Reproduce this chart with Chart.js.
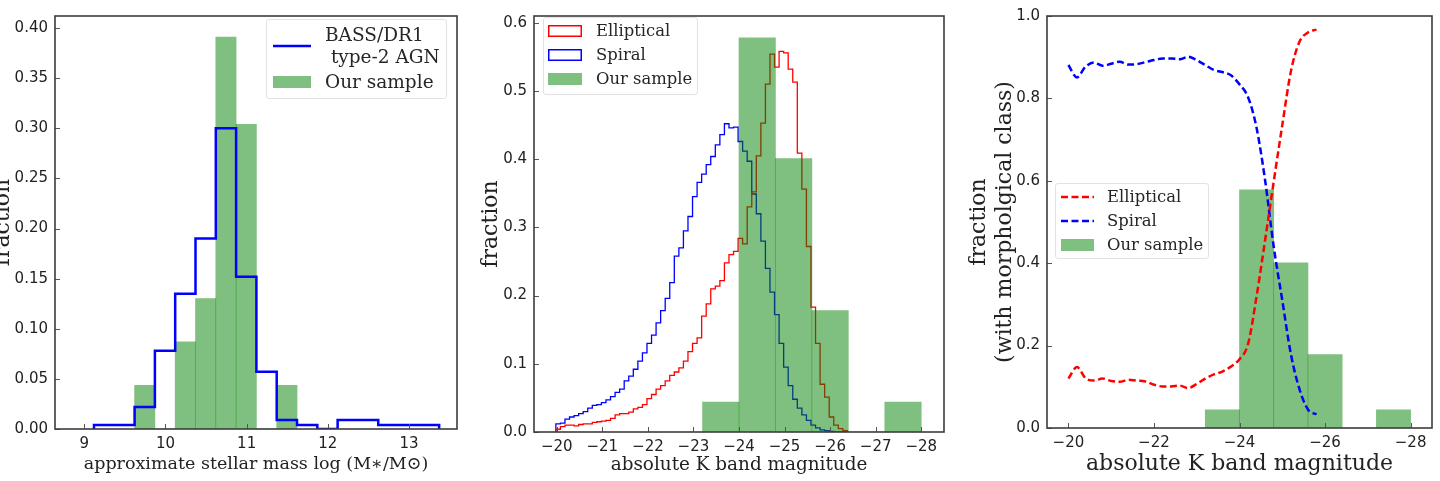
<!DOCTYPE html>
<html>
<head>
<meta charset="utf-8">
<title>Stellar mass and K band magnitude distributions</title>
<script src="https://cdn.jsdelivr.net/npm/chart.js@4.4.1/dist/chart.umd.min.js"></script>
<style>
    body { margin: 0; width: 1440px; height: 481px; background: #fff; position: relative; overflow: hidden; }
    .panel { position: absolute; top: 0; height: 481px; }
    .legend { position: absolute; box-sizing: border-box; background: rgba(255,255,255,0.8); border: 1px solid #e2e2e2; border-radius: 3px; font-family: "DejaVu Serif", serif; color: #262626; }
    .legend .txt { position: absolute; white-space: pre; }
    .legend svg { position: absolute; }
</style>
</head>
<body>
<div class="panel" style="left:0px"><canvas id="massChart" width="466" height="481"></canvas></div>
<div class="panel" style="left:466px"><canvas id="magChart" width="494" height="481"></canvas></div>
<div class="panel" style="left:960px"><canvas id="fracChart" width="480" height="481"></canvas></div>
<script>
// panel 1: stellar mass
const massEdges = [9.12, 9.37, 9.62, 9.87, 10.12, 10.37, 10.62, 10.87, 11.12, 11.37, 11.62, 11.87, 12.12, 12.37, 12.62, 12.87, 13.12, 13.37];
const bassFraction = [0.004, 0.004, 0.022, 0.078, 0.135, 0.19, 0.30, 0.152, 0.057, 0.009, 0.004, 0, 0.009, 0.009, 0.004, 0.004, 0.004];
const sampleMassEdges = [9.62, 9.87, 10.12, 10.37, 10.62, 10.87, 11.12, 11.37, 11.62];
const sampleMassFraction = [0.0435, 0, 0.087, 0.130, 0.391, 0.304, 0, 0.0435];
const massTicks = [9, 10, 11, 12, 13];
const massFracTicks = [0, 0.05, 0.10, 0.15, 0.20, 0.25, 0.30, 0.35, 0.40];

// panel 2: K band magnitude histograms
const kEdges = [
    -19.98, -20.08, -20.18, -20.28, -20.38, -20.48, -20.58, -20.68, -20.78, -20.88,
    -20.98, -21.08, -21.18, -21.28, -21.38, -21.48, -21.58, -21.68, -21.78, -21.88,
    -21.98, -22.08, -22.18, -22.28, -22.38, -22.48, -22.58, -22.68, -22.78, -22.88,
    -22.98, -23.08, -23.18, -23.28, -23.38, -23.48, -23.58, -23.68, -23.78, -23.88,
    -23.98, -24.08, -24.18, -24.28, -24.38, -24.48, -24.58, -24.68, -24.78, -24.88,
    -24.98, -25.08, -25.18, -25.28, -25.38, -25.48, -25.58, -25.68, -25.78, -25.88,
    -25.98, -26.08, -26.18, -26.28, -26.38
];
const ellipticalHist = [
    0.004, 0.008, 0.010, 0.010, 0.009, 0.011, 0.012, 0.012, 0.014, 0.015,
    0.016, 0.017, 0.020, 0.025, 0.027, 0.027, 0.029, 0.034, 0.036, 0.040,
    0.049, 0.055, 0.063, 0.068, 0.075, 0.083, 0.088, 0.094, 0.104, 0.118,
    0.130, 0.138, 0.170, 0.188, 0.210, 0.214, 0.222, 0.248, 0.260, 0.265,
    0.284, 0.276, 0.330, 0.352, 0.405, 0.453, 0.510, 0.554, 0.535, 0.558,
    0.556, 0.532, 0.513, 0.409, 0.356, 0.272, 0.183, 0.130, 0.070, 0.051,
    0.022, 0.010, 0.005, 0.002
];
const spiralHist = [
    0.012, 0.013, 0.019, 0.022, 0.024, 0.027, 0.030, 0.035, 0.039, 0.040,
    0.043, 0.047, 0.052, 0.058, 0.063, 0.075, 0.082, 0.092, 0.104, 0.116,
    0.130, 0.142, 0.160, 0.178, 0.196, 0.219, 0.258, 0.270, 0.295, 0.316,
    0.345, 0.366, 0.378, 0.392, 0.404, 0.421, 0.436, 0.452, 0.446, 0.447,
    0.426, 0.412, 0.397, 0.349, 0.320, 0.280, 0.240, 0.205, 0.172, 0.130,
    0.095, 0.068, 0.048, 0.035, 0.025, 0.017, 0.010, 0.006, 0.003, 0.002,
    0.001, 0, 0, 0
];
const sampleKEdges = [-23.2, -24.0, -24.8, -25.6, -26.4, -27.2, -28.0];
const sampleKFraction = [0.044, 0.578, 0.401, 0.178, 0, 0.044];
const kTicks2 = [-20, -21, -22, -23, -24, -25, -26, -27, -28];
const kFracTicks2 = [0, 0.1, 0.2, 0.3, 0.4, 0.5, 0.6];

// panel 3: fraction with morphological class
const classMags = [-20.0, -20.2, -20.4, -20.6, -20.8, -21.0, -21.2, -21.4, -21.6, -21.8,
    -22.0, -22.2, -22.4, -22.6, -22.8, -23.0, -23.2, -23.4, -23.6, -23.8,
    -24.0, -24.2, -24.4, -24.6, -24.8, -25.0, -25.2, -25.4, -25.6, -25.8];
const ellipticalShare = [0.120, 0.148, 0.121, 0.115, 0.120, 0.114, 0.112, 0.117, 0.115, 0.113,
    0.105, 0.101, 0.101, 0.103, 0.097, 0.107, 0.120, 0.130, 0.137, 0.149,
    0.167, 0.204, 0.320, 0.457, 0.598, 0.735, 0.865, 0.937, 0.960, 0.967];
const spiralShare = [0.881, 0.851, 0.877, 0.887, 0.879, 0.884, 0.889, 0.882, 0.883, 0.888,
    0.893, 0.897, 0.897, 0.895, 0.901, 0.893, 0.881, 0.869, 0.864, 0.856,
    0.834, 0.803, 0.728, 0.600, 0.440, 0.310, 0.180, 0.095, 0.045, 0.033];
const kTicks3 = [-20, -22, -24, -26, -28];
const classFracTicks = [0, 0.2, 0.4, 0.6, 0.8, 1.0];

const textColor = "#222";
const tickFont = { family: "DejaVu Sans", size: 15 };
const green = "rgba(0,128,0,0.5)";

function stepPoints(edges, values) {
    const pts = [{ x: edges[0], y: 0 }];
    values.forEach(function (v, i) { pts.push({ x: edges[i], y: v }); });
    pts.push({ x: edges[edges.length - 1], y: 0 });
    return pts;
}

function barPoints(edges, values) {
    return values.map(function (v, i) { return { x: (edges[i] + edges[i + 1]) / 2, y: v }; });
}

function fixedTicks(values) {
    return function (scale) {
        scale.ticks = values.map(function (v) { return { value: v }; });
    };
}

function minus(v) {
    return v < 0 ? "\u2212" + Math.abs(v) : String(v);
}

// axes box and inward tick marks like matplotlib
const frame = {
    id: "frame",
    afterDatasetsDraw(chart) {
        const { ctx, chartArea: a, scales } = chart;
        ctx.save();
        ctx.strokeStyle = "#555";
        ctx.lineWidth = 1;
        scales.x.ticks.forEach(function (t) {
            const px = Math.round(scales.x.getPixelForValue(t.value)) + 0.5;
            ctx.beginPath(); ctx.moveTo(px, a.bottom); ctx.lineTo(px, a.bottom - 5); ctx.stroke();
        });
        scales.y.ticks.forEach(function (t) {
            const py = Math.round(scales.y.getPixelForValue(t.value)) + 0.5;
            ctx.beginPath(); ctx.moveTo(a.left, py); ctx.lineTo(a.left + 5, py); ctx.stroke();
        });
        ctx.strokeStyle = "#3c3c3c";
        ctx.lineWidth = 1.6;
        ctx.strokeRect(a.left, a.top, a.right - a.left, a.bottom - a.top);
        ctx.restore();
    }
};

function xAxis(o) {
    return {
        type: "linear", min: o.min, max: o.max, reverse: !!o.reverse, offset: false,
        grid: { display: false, drawTicks: false, offset: false }, border: { display: false },
        afterBuildTicks: fixedTicks(o.ticks),
        afterFit: function (s) { s.height = o.height; },
        ticks: { font: tickFont, color: textColor, padding: 6, autoSkip: false, maxRotation: 0, callback: minus },
        title: { display: true, text: o.title, color: textColor, font: { family: "DejaVu Serif", size: o.titleSize }, padding: { top: 0, bottom: o.titlePad } }
    };
}

function yAxis(o) {
    return {
        min: 0, max: o.max,
        grid: { display: false, drawTicks: false }, border: { display: false },
        afterBuildTicks: fixedTicks(o.ticks),
        afterFit: function (s) { s.width = o.width; },
        ticks: { font: tickFont, color: textColor, padding: 7, autoSkip: false, callback: function (v) { return v.toFixed(o.digits); } },
        title: { display: true, text: o.title, color: textColor, font: { family: "DejaVu Serif", size: 22 }, padding: { top: o.titlePad, bottom: 0 } }
    };
}

function swatch(kind, ds, w) {
    const ns = "http://www.w3.org/2000/svg";
    const svg = document.createElementNS(ns, "svg");
    svg.setAttribute("width", w);
    svg.setAttribute("height", 12);
    let shape;
    if (kind === "line" || kind === "dash") {
        shape = document.createElementNS(ns, "line");
        shape.setAttribute("x1", 0); shape.setAttribute("y1", 6);
        shape.setAttribute("x2", w); shape.setAttribute("y2", 6);
        shape.setAttribute("stroke", ds.borderColor);
        shape.setAttribute("stroke-width", ds.borderWidth);
        if (kind === "dash") shape.setAttribute("stroke-dasharray", ds.borderDash.join(" "));
    } else if (kind === "outline") {
        shape = document.createElementNS(ns, "rect");
        shape.setAttribute("x", 0.75); shape.setAttribute("y", 0.75);
        shape.setAttribute("width", w - 1.5); shape.setAttribute("height", 10.5);
        shape.setAttribute("fill", "none");
        shape.setAttribute("stroke", ds.borderColor);
        shape.setAttribute("stroke-width", 1.5);
    } else {
        shape = document.createElementNS(ns, "rect");
        shape.setAttribute("width", w); shape.setAttribute("height", 12);
        shape.setAttribute("fill", ds.backgroundColor);
    }
    svg.appendChild(shape);
    return svg;
}

function legend(chart, box, rows) {
    const el = document.createElement("div");
    el.className = "legend";
    el.style.left = box.left + "px";
    el.style.top = box.top + "px";
    el.style.width = box.width + "px";
    el.style.height = box.height + "px";
    el.style.fontSize = box.fontSize + "px";
    rows.forEach(function (r) {
        const ds = chart.data.datasets[r.index];
        const lines = ds.label.split("\n").length;
        const txt = document.createElement("div");
        txt.className = "txt";
        txt.textContent = ds.label;
        txt.style.left = box.textLeft + "px";
        txt.style.lineHeight = box.lineHeight + "px";
        txt.style.top = (r.y - lines * box.lineHeight / 2) + "px";
        el.appendChild(txt);
        const sw = swatch(r.kind, ds, box.swatchWidth);
        sw.style.left = box.swatchLeft + "px";
        sw.style.top = (r.y - 6) + "px";
        el.appendChild(sw);
    });
    document.body.appendChild(el);
}

const massChart = new Chart(document.getElementById("massChart"), {
    type: "bar",
    data: {
        datasets: [
            {
                type: "line", label: "BASS/DR1\n type-2 AGN", data: stepPoints(massEdges, bassFraction),
                borderColor: "#0000ff", borderWidth: 2.5, stepped: "before", pointRadius: 0, fill: false, order: 0
            },
            {
                type: "bar", label: "Our sample", data: barPoints(sampleMassEdges, sampleMassFraction),
                backgroundColor: green, borderWidth: 0, barPercentage: 1, categoryPercentage: 1, order: 1
            }
        ]
    },
    options: {
        responsive: false, animation: false,
        layout: { padding: { left: 0, top: 9, right: 9, bottom: 0 } },
        plugins: { legend: { display: false }, tooltip: { enabled: false } },
        scales: {
            x: xAxis({ min: 8.64, max: 13.59, ticks: massTicks, height: 52, title: "approximate stellar mass log (M\u2217/M\u2299)", titleSize: 17.5, titlePad: 6.5 }),
            y: yAxis({ max: 0.412, ticks: massFracTicks, width: 55, digits: 2, title: "fraction", titlePad: -10 })
        }
    },
    plugins: [frame]
});

const magChart = new Chart(document.getElementById("magChart"), {
    type: "bar",
    data: {
        datasets: [
            {
                type: "line", label: "Elliptical", data: stepPoints(kEdges, ellipticalHist),
                borderColor: "#ff0000", borderWidth: 1.3, stepped: "before", pointRadius: 0, fill: false, order: 1
            },
            {
                type: "line", label: "Spiral", data: stepPoints(kEdges, spiralHist),
                borderColor: "#0000ff", borderWidth: 1.3, stepped: "before", pointRadius: 0, fill: false, order: 1
            },
            {
                type: "bar", label: "Our sample", data: barPoints(sampleKEdges, sampleKFraction),
                backgroundColor: green, borderWidth: 0, barPercentage: 1, categoryPercentage: 1, order: 0
            }
        ]
    },
    options: {
        responsive: false, animation: false,
        layout: { padding: { left: 0, top: 9, right: 16, bottom: 0 } },
        plugins: { legend: { display: false }, tooltip: { enabled: false } },
        scales: {
            x: xAxis({ min: -28.5, max: -19.5, reverse: true, ticks: kTicks2, height: 49, title: "absolute K band magnitude", titleSize: 18.4, titlePad: 4.5 }),
            y: yAxis({ max: 0.61, ticks: kFracTicks2, width: 68, digits: 1, title: "fraction", titlePad: 12 })
        }
    },
    plugins: [frame]
});

const fracChart = new Chart(document.getElementById("fracChart"), {
    type: "bar",
    data: {
        datasets: [
            {
                type: "line", label: "Elliptical", data: classMags.map(function (m, i) { return { x: m, y: ellipticalShare[i] }; }),
                borderColor: "#ff0000", borderWidth: 2.5, borderDash: [7, 3.5], cubicInterpolationMode: "monotone", pointRadius: 0, fill: false, order: 0
            },
            {
                type: "line", label: "Spiral", data: classMags.map(function (m, i) { return { x: m, y: spiralShare[i] }; }),
                borderColor: "#0000ff", borderWidth: 2.5, borderDash: [7, 3.5], cubicInterpolationMode: "monotone", pointRadius: 0, fill: false, order: 0
            },
            {
                type: "bar", label: "Our sample", data: barPoints(sampleKEdges, sampleKFraction),
                backgroundColor: green, borderWidth: 0, barPercentage: 1, categoryPercentage: 1, order: 1
            }
        ]
    },
    options: {
        responsive: false, animation: false,
        layout: { padding: { left: 0, top: 15, right: 8, bottom: 0 } },
        plugins: { legend: { display: false }, tooltip: { enabled: false } },
        scales: {
            x: xAxis({ min: -28.5, max: -19.5, reverse: true, ticks: kTicks3, height: 53, title: "absolute K band magnitude", titleSize: 22, titlePad: 4 }),
            y: yAxis({ max: 1.0, ticks: classFracTicks, width: 87, digits: 1, title: ["fraction", "(with morpholgical class)"], titlePad: 6 })
        }
    },
    plugins: [frame]
});

legend(massChart, { left: 266, top: 19, width: 181, height: 80, fontSize: 18.5, lineHeight: 22, textLeft: 58, swatchLeft: 6, swatchWidth: 38 },
    [{ index: 0, kind: "line", y: 26 }, { index: 1, kind: "patch", y: 62 }]);
legend(magChart, { left: 543, top: 17, width: 155, height: 78, fontSize: 16.4, lineHeight: 20, textLeft: 52, swatchLeft: 4, swatchWidth: 34 },
    [{ index: 0, kind: "outline", y: 13 }, { index: 1, kind: "outline", y: 37 }, { index: 2, kind: "patch", y: 61 }]);
legend(fracChart, { left: 1055, top: 183, width: 154, height: 76, fontSize: 16.4, lineHeight: 20, textLeft: 51, swatchLeft: 5, swatchWidth: 33 },
    [{ index: 0, kind: "dash", y: 13 }, { index: 1, kind: "dash", y: 37 }, { index: 2, kind: "patch", y: 61 }]);
</script>
</body>
</html>
